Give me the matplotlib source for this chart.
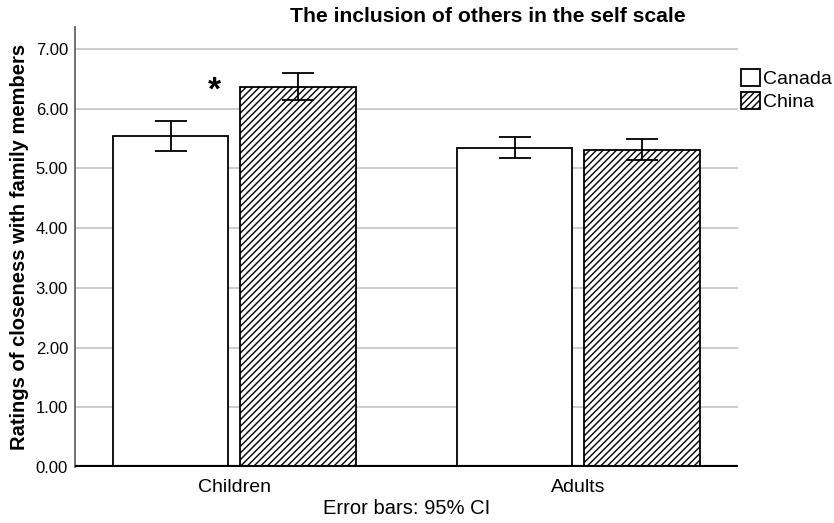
import matplotlib
matplotlib.use("Agg")
import matplotlib.pyplot as plt
import numpy as np

plt.rcParams['font.family'] = ['Liberation Sans', 'DejaVu Sans']
plt.rcParams['hatch.linewidth'] = 1.0

groups = ["Children", "Adults"]
series = ["Canada", "China"]
means = {"Canada": [5.55, 5.35], "China": [6.37, 5.31]}
ci_low = {"Canada": [5.30, 5.17], "China": [6.14, 5.14]}
ci_high = {"Canada": [5.80, 5.53], "China": [6.60, 5.49]}
yticks = [0, 1, 2, 3, 4, 5, 6, 7]

W, H = 834, 523
fig = plt.figure(figsize=(W / 100, H / 100), dpi=100)
ax = fig.add_axes([75 / W, 1 - 467 / H, (738 - 75) / W, (467 - 27) / H])

x = np.arange(len(groups))
width = 0.335
offsets = {"Canada": -0.185, "China": 0.185}
hatches = {"Canada": None, "China": "/////"}

for s in series:
    xs = x + offsets[s]
    m = np.array(means[s])
    lo = m - np.array(ci_low[s])
    hi = np.array(ci_high[s]) - m
    ax.bar(xs, m, width=width, facecolor="white", edgecolor="black",
           linewidth=1.3, hatch=hatches[s], label=s, zorder=3)
    ax.errorbar(xs, m, yerr=[lo, hi], fmt="none", ecolor="black",
                elinewidth=1.3, capsize=11.5, capthick=1.3, zorder=4)

# significance marker for the Children comparison
ax.text(-0.058, 6.30, "*", ha="center", va="center", fontsize=24,
        fontweight="bold")

ax.set_xlim(-0.463, 1.464)
ax.set_ylim(0, 7.37)
ax.set_yticks(yticks)
ax.set_yticklabels([f"{v:.2f}" for v in yticks], fontsize=12)
ax.set_xticks(x)
ax.set_xticklabels(groups, fontsize=14)
ax.tick_params(axis="y", length=0, pad=5)
ax.tick_params(axis="x", length=0, pad=9)

ax.grid(axis="y", color="#c8c8c8", linewidth=1.3, zorder=0)
ax.set_axisbelow(True)
for side in ["top", "right"]:
    ax.spines[side].set_visible(False)
ax.spines["left"].set_color("#666666")
ax.spines["left"].set_linewidth(1.3)
ax.spines["bottom"].set_visible(False)
ax.axhline(0, color="black", linewidth=3, zorder=5)

ax.set_ylabel("Ratings of closeness with family members", fontsize=14.5,
              fontweight="bold")
ax.yaxis.set_label_coords(-0.07, 0.5)
ax.set_xlabel("Error bars: 95% CI", fontsize=14.5, labelpad=2)

fig.text(488 / W, 1 - 16 / H, "The inclusion of others in the self scale",
         ha="center", va="center", fontsize=15.2, fontweight="bold")

leg = ax.legend(loc="upper left", bbox_to_anchor=(1.005, 0.905), frameon=False,
                fontsize=14, handlelength=0.95, handleheight=0.95,
                handletextpad=0.15, labelspacing=0.2, borderaxespad=0,
                borderpad=0)

fig.savefig("out.png", dpi=100)
